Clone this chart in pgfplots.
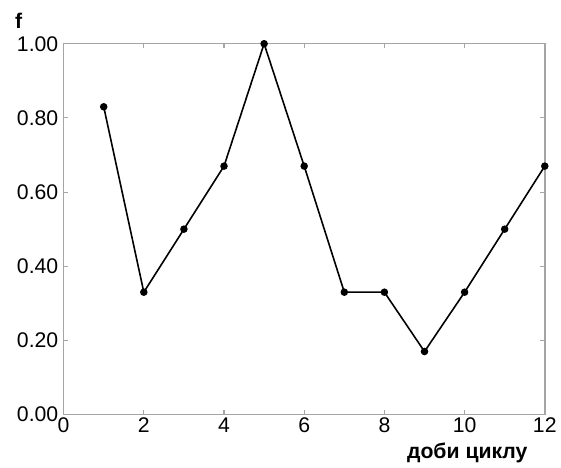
\documentclass[border=0pt]{standalone}
\usepackage{pgfplots}
\pgfplotsset{compat=1.18}
\usepackage{fontspec}
\setmainfont{Liberation Sans}
\definecolor{frame}{RGB}{165,165,165}
\begin{document}
\begin{tikzpicture}
\begin{axis}[
  at={(0,0)}, anchor=south west,
  scale only axis, width=363pt, height=279.75pt,
  xmin=0, xmax=12, ymin=0, ymax=1,
  xtick={0,2,...,12}, ytick={0,0.2,0.4,0.6,0.8,1.0},
  yticklabel style={/pgf/number format/fixed, /pgf/number format/fixed zerofill, /pgf/number format/precision=2},
  /pgf/number format/assume math mode=true,
  tick label style={font=\fontsize{16}{18}\selectfont, black},
  axis line style={frame, line width=1.1pt},
  tick style={frame, line width=0.8pt},
  major tick length=3.5pt,
  tick align=inside,
  xticklabel style={yshift=1pt},
  yticklabel style={xshift=-0.5pt},
]
\addplot[black, line width=1.2pt, mark=*, mark size=2.2pt] coordinates {
(1,0.83) (2,0.33) (3,0.50) (4,0.67) (5,1.00) (6,0.67)
(7,0.33) (8,0.33) (9,0.17) (10,0.33) (11,0.50) (12,0.67)};
\end{axis}
\path (-48pt,-38.25pt) (372.75pt,312.75pt);
\node[font=\bfseries\fontsize{16}{18}\selectfont, anchor=base] at (-34pt,291pt) {f};
\node[font=\bfseries\fontsize{16}{18}\selectfont, anchor=base] at (304.5pt,-33pt) {доби циклу};
\end{tikzpicture}
\end{document}
